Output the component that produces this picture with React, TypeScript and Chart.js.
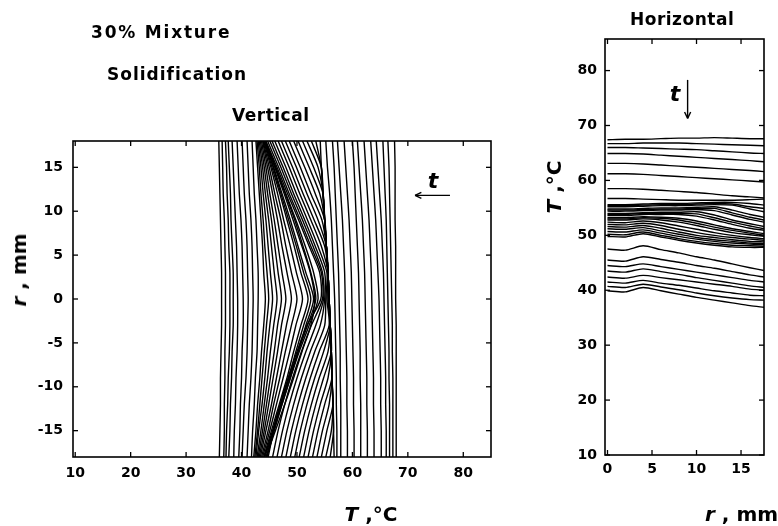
import React, { useEffect, useRef } from "react";
import { Chart, registerables } from "chart.js";

Chart.register(...registerables);

// ---------- Vertical panel: T (°C) profiles along r (mm) ----------
const R_VERT = [18, 15, 12, 9, 6, 3, 0, -3, -6, -9, -12, -15, -18];

// early (hot) profiles
const VERT_EARLY = [
  [67.6, 67.7, 67.7, 67.7, 67.8, 67.8, 67.8, 67.9, 67.9, 67.9, 67.9, 67.9, 67.9],
  [66.4, 66.6, 66.7, 66.8, 66.9, 67.0, 67.1, 67.2, 67.2, 67.3, 67.3, 67.3, 67.3],
  [65.5, 65.7, 65.9, 66.1, 66.2, 66.3, 66.4, 66.5, 66.6, 66.6, 66.7, 66.7, 66.7],
  [64.3, 64.6, 64.9, 65.2, 65.4, 65.6, 65.7, 65.8, 65.9, 66.0, 66.0, 66.1, 66.1],
  [63.3, 63.6, 63.9, 64.2, 64.4, 64.6, 64.8, 64.9, 65.0, 65.1, 65.1, 65.2, 65.2],
  [62.1, 62.4, 62.7, 63.0, 63.2, 63.4, 63.5, 63.6, 63.7, 63.8, 63.8, 63.9, 63.9],
  [60.9, 61.2, 61.5, 61.8, 62.0, 62.2, 62.3, 62.4, 62.5, 62.6, 62.6, 62.7, 62.7],
  [60.0, 60.3, 60.5, 60.7, 60.9, 61.1, 61.2, 61.3, 61.4, 61.4, 61.5, 61.5, 61.5],
  [58.5, 58.8, 59.1, 59.4, 59.6, 59.8, 59.9, 60.0, 60.1, 60.2, 60.2, 60.3, 60.3],
  [57.3, 57.6, 57.9, 58.2, 58.4, 58.6, 58.7, 58.8, 58.9, 59.0, 59.0, 59.1, 59.1],
  [56.4, 56.7, 56.9, 57.1, 57.3, 57.5, 57.6, 57.7, 57.8, 57.8, 57.9, 57.9, 57.9],
  [55.2, 55.5, 55.9, 56.2, 56.4, 56.6, 56.8, 56.9, 57.0, 57.1, 57.1, 57.2, 57.2],
];

// fan of profiles meeting the ~55 °C plateau
const VERT_FAN = [
  [54.2, 54.4, 54.7, 55.0, 55.3, 55.6, 55.8, 56.0, 56.2, 56.3, 56.5, 56.6, 56.7],
  [53.4, 54.4, 54.7, 55.0, 55.3, 55.6, 55.8, 56.0, 56.2, 56.3, 56.5, 56.6, 56.0],
  [52.6, 54.4, 54.7, 55.0, 55.3, 55.6, 55.8, 56.0, 56.2, 56.3, 56.5, 56.2, 55.2],
  [51.8, 53.8, 54.7, 55.0, 55.3, 55.6, 55.8, 56.0, 56.2, 56.3, 56.5, 55.4, 54.4],
  [51.0, 53.0, 54.7, 55.0, 55.3, 55.6, 55.8, 56.0, 56.2, 56.3, 55.8, 54.6, 53.6],
  [50.2, 52.2, 54.1, 55.0, 55.3, 55.6, 55.8, 56.0, 56.2, 56.3, 55.0, 53.8, 52.8],
  [49.4, 51.4, 53.3, 55.0, 55.3, 55.6, 55.8, 56.0, 56.2, 55.6, 54.2, 53.0, 52.0],
  [48.6, 50.6, 52.5, 54.5, 55.3, 55.6, 55.8, 56.0, 56.2, 54.8, 53.4, 52.2, 51.2],
  [47.9, 49.9, 51.8, 53.8, 55.3, 55.6, 55.7, 56.0, 55.6, 54.0, 52.6, 51.4, 50.4],
  [47.2, 49.2, 51.1, 53.1, 55.0, 55.6, 55.6, 56.0, 54.8, 53.2, 51.8, 50.6, 49.6],
  [46.6, 48.6, 50.5, 52.5, 54.4, 55.6, 55.4, 55.8, 54.0, 52.4, 51.0, 49.8, 48.8],
  [46.0, 48.0, 49.9, 51.9, 53.8, 55.4, 55.2, 55.0, 53.2, 51.6, 50.2, 49.0, 48.0],
  [45.5, 47.5, 49.4, 51.4, 53.3, 55.0, 55.0, 54.2, 52.4, 50.8, 49.4, 48.2, 47.2],
  [45.1, 47.1, 49.0, 51.0, 52.9, 54.6, 54.8, 53.4, 51.6, 50.0, 48.6, 47.4, 46.4],
  [44.7, 46.7, 48.6, 50.6, 52.5, 54.4, 54.6, 52.6, 50.8, 49.2, 47.8, 46.6, 45.6],
  [44.4, 46.4, 48.3, 50.3, 52.2, 54.1, 54.3, 51.8, 50.0, 48.4, 47.0, 45.8, 44.8],
];

// profiles with falling central peak
const VERT_LATE = [
  [44.3, 46.2, 48.0, 49.8, 51.5, 53.0, 53.8, 52.2, 50.4, 48.8, 47.3, 45.9, 44.6],
  [44.3, 46.1, 47.9, 49.6, 51.1, 52.5, 53.4, 51.9, 50.2, 48.6, 47.1, 45.7, 44.5],
  [44.3, 46.0, 47.7, 49.3, 50.9, 52.4, 53.2, 52.5, 50.9, 49.4, 47.8, 46.1, 44.4],
  [44.2, 45.8, 47.3, 48.8, 50.2, 51.6, 53.0, 51.6, 50.2, 48.8, 47.3, 45.8, 44.2],
  [44.2, 45.7, 47.1, 48.5, 49.9, 51.2, 52.5, 51.2, 49.8, 48.5, 47.0, 45.6, 44.1],
  [44.1, 45.5, 46.9, 48.2, 49.5, 50.7, 52.0, 50.7, 49.4, 48.2, 46.8, 45.4, 44.0],
  [44.0, 45.3, 46.5, 47.6, 48.8, 49.9, 51.0, 49.8, 48.7, 47.5, 46.3, 45.1, 43.8],
  [43.9, 45.0, 46.0, 47.1, 48.0, 49.0, 50.0, 49.0, 47.9, 46.9, 45.8, 44.8, 43.6],
  [43.8, 44.7, 45.6, 46.5, 47.3, 48.2, 49.0, 48.1, 47.2, 46.3, 45.4, 44.4, 43.4],
  [43.6, 44.4, 45.1, 45.9, 46.6, 47.3, 48.0, 47.2, 46.5, 45.7, 44.9, 44.1, 43.2],
  [43.4, 44.1, 44.7, 45.4, 46.0, 46.6, 47.2, 46.5, 45.9, 45.2, 44.5, 43.8, 43.0],
  [43.2, 43.8, 44.3, 44.9, 45.4, 45.9, 46.4, 45.8, 45.2, 44.7, 44.1, 43.5, 42.8],
  [43.0, 43.5, 43.9, 44.4, 44.8, 45.2, 45.6, 45.1, 44.6, 44.2, 43.7, 43.1, 42.6],
  [42.8, 43.2, 43.5, 43.9, 44.2, 44.6, 44.9, 44.5, 44.1, 43.7, 43.3, 42.9, 42.4],
  [42.6, 42.9, 43.2, 43.5, 43.8, 44.0, 44.3, 44.0, 43.6, 43.3, 42.9, 42.6, 42.2],
];

// cold, nearly uniform profiles
const VERT_COLD = [
  [41.9, 42.1, 42.3, 42.6, 42.8, 43.0, 43.0, 42.9, 42.8, 42.5, 42.3, 42.0, 41.8],
  [41.0, 41.2, 41.4, 41.7, 41.9, 42.0, 42.1, 42.0, 41.9, 41.7, 41.4, 41.2, 41.0],
  [40.1, 40.3, 40.5, 40.8, 41.0, 41.1, 41.2, 41.1, 41.0, 40.8, 40.5, 40.3, 40.1],
  [39.2, 39.4, 39.6, 39.9, 40.1, 40.2, 40.3, 40.3, 40.1, 40.0, 39.8, 39.7, 39.5],
  [38.3, 38.5, 38.7, 38.9, 39.1, 39.2, 39.3, 39.3, 39.2, 39.0, 38.9, 38.7, 38.6],
  [37.6, 37.8, 38.0, 38.1, 38.3, 38.5, 38.5, 38.5, 38.3, 38.2, 38.0, 37.9, 37.7],
  [37.1, 37.3, 37.4, 37.6, 37.7, 37.9, 37.9, 37.9, 37.8, 37.6, 37.5, 37.3, 37.2],
  [36.5, 36.6, 36.7, 36.9, 37.0, 37.1, 37.1, 37.1, 37.0, 37.0, 36.9, 36.9, 36.8],
  [35.9, 36.0, 36.1, 36.2, 36.3, 36.4, 36.4, 36.4, 36.3, 36.2, 36.2, 36.1, 36.0],
];

// ---------- Horizontal panel: T (°C) along r (mm) ----------
const R_HORIZ = [0, 2, 4, 6, 8, 10, 12, 14, 16, 17.6];

const HORIZ_EARLY = [
  [67.4, 67.5, 67.5, 67.6, 67.7, 67.7, 67.8, 67.7, 67.6, 67.6],
  [66.7, 66.7, 66.8, 66.8, 66.8, 66.7, 66.6, 66.5, 66.4, 66.3],
  [66.0, 66.0, 65.9, 65.8, 65.7, 65.6, 65.4, 65.2, 65.0, 64.9],
  [64.9, 64.9, 64.8, 64.6, 64.4, 64.2, 64.0, 63.8, 63.6, 63.4],
  [63.1, 63.1, 63.0, 62.8, 62.6, 62.4, 62.2, 62.0, 61.8, 61.6],
  [61.2, 61.2, 61.1, 60.9, 60.7, 60.5, 60.3, 60.1, 59.9, 59.7],
  [58.5, 58.5, 58.4, 58.2, 58.0, 57.8, 57.5, 57.2, 57.0, 56.8],
  [56.7, 56.7, 56.6, 56.5, 56.4, 56.4, 56.4, 56.4, 56.5, 56.6],
];

const HORIZ_FAN = [
  [55.6, 55.6, 55.7, 55.8, 55.8, 55.9, 56.0, 56.0, 55.8, 55.5],
  [55.4, 55.4, 55.5, 55.6, 55.6, 55.7, 55.8, 55.7, 55.2, 54.9],
  [55.2, 55.2, 55.3, 55.4, 55.4, 55.5, 55.6, 55.5, 54.8, 54.3],
  [54.8, 54.8, 54.9, 55.0, 55.0, 55.1, 55.2, 54.6, 53.8, 53.3],
  [54.6, 54.6, 54.7, 54.8, 54.8, 54.9, 54.9, 54.1, 53.3, 52.8],
  [54.4, 54.4, 54.5, 54.6, 54.6, 54.7, 54.5, 53.7, 52.9, 52.4],
  [54.0, 54.0, 54.1, 54.2, 54.2, 54.3, 53.7, 52.8, 52.1, 51.6],
  [53.8, 53.8, 54.0, 54.0, 54.0, 53.9, 53.2, 52.4, 51.7, 51.2],
  [53.6, 53.6, 53.8, 53.8, 53.8, 53.5, 52.8, 52.0, 51.3, 50.9],
  [53.2, 53.2, 53.4, 53.3, 53.1, 52.6, 51.9, 51.2, 50.7, 50.3],
  [53.0, 53.0, 53.2, 53.1, 52.8, 52.2, 51.5, 50.9, 50.4, 50.0],
  [52.8, 52.8, 53.0, 52.8, 52.4, 51.8, 51.1, 50.5, 50.1, 49.8],
  [52.4, 52.3, 52.6, 52.3, 51.7, 51.1, 50.5, 50.0, 49.6, 49.4],
  [52.0, 51.9, 52.2, 51.8, 51.1, 50.5, 50.0, 49.6, 49.3, 49.1],
  [51.6, 51.5, 51.8, 51.3, 50.6, 50.0, 49.6, 49.2, 48.9, 48.8],
  [51.2, 51.1, 51.4, 50.8, 50.2, 49.6, 49.2, 48.9, 48.6, 48.5],
  [50.7, 50.6, 51.0, 50.4, 49.8, 49.3, 48.9, 48.6, 48.4, 48.3],
  [50.2, 50.1, 50.6, 50.0, 49.4, 48.9, 48.5, 48.2, 48.1, 48.0],
  [49.8, 49.7, 50.3, 49.7, 49.1, 48.6, 48.2, 47.9, 47.8, 47.8],
];

const HORIZ_COLD = [
  [47.5, 47.3, 48.1, 47.4, 46.8, 46.1, 45.5, 44.8, 44.1, 43.6],
  [45.5, 45.3, 46.1, 45.6, 45.1, 44.5, 44.0, 43.4, 42.8, 42.4],
  [44.5, 44.3, 44.8, 44.3, 43.8, 43.3, 42.8, 42.3, 41.8, 41.5],
  [43.5, 43.3, 43.9, 43.4, 42.9, 42.3, 41.8, 41.3, 40.8, 40.5],
  [42.4, 42.2, 42.7, 42.3, 41.9, 41.5, 41.1, 40.7, 40.2, 40.0],
  [41.5, 41.3, 41.8, 41.3, 40.9, 40.4, 39.9, 39.5, 39.1, 39.0],
  [40.7, 40.5, 41.1, 40.6, 40.1, 39.5, 39.0, 38.6, 38.3, 38.2],
  [39.9, 39.7, 40.5, 39.9, 39.3, 38.7, 38.2, 37.7, 37.2, 36.9],
];

// ---------- tick labels ----------
const VERT_T_TICKS = [10, 20, 30, 40, 50, 60, 70, 80];
const VERT_R_TICKS = [-15, -10, -5, 0, 5, 10, 15];
const HORIZ_R_TICKS = [0, 5, 10, 15];
const HORIZ_T_TICKS = [10, 20, 30, 40, 50, 60, 70, 80];

const TICK_FONT = { family: '"DejaVu Sans", sans-serif', size: 14, weight: "bold" as const };

const framePlugin = {
  id: "frame",
  afterDatasetsDraw(chart: any, _args: any, opts: any) {
    const { ctx, chartArea: a, scales } = chart;
    ctx.save();
    ctx.strokeStyle = "#000";
    ctx.lineWidth = 1.6;
    ctx.strokeRect(a.left, a.top, a.right - a.left, a.bottom - a.top);
    ctx.lineWidth = 1.3;
    const L = 5;
    const seg = (x1: number, y1: number, x2: number, y2: number) => {
      ctx.beginPath();
      ctx.moveTo(x1, y1);
      ctx.lineTo(x2, y2);
      ctx.stroke();
    };
    scales.x.ticks.forEach((t: any) => {
      const px = scales.x.getPixelForValue(t.value);
      seg(px, a.bottom, px, a.bottom - L);
      seg(px, a.top, px, a.top + L);
    });
    scales.y.ticks.forEach((t: any) => {
      const py = scales.y.getPixelForValue(t.value);
      seg(a.left, py, a.left + L, py);
      seg(a.right, py, a.right - L, py);
    });
    if (opts && opts.arrow) {
      const [fx, fy] = opts.arrow.from;
      const [tx, ty] = opts.arrow.to;
      const x1 = scales.x.getPixelForValue(fx);
      const y1 = scales.y.getPixelForValue(fy);
      const x2 = scales.x.getPixelForValue(tx);
      const y2 = scales.y.getPixelForValue(ty);
      ctx.lineWidth = 1.4;
      seg(x1, y1, x2, y2);
      const ang = Math.atan2(y2 - y1, x2 - x1);
      const h = 7;
      seg(x2, y2, x2 - h * Math.cos(ang - 0.45), y2 - h * Math.sin(ang - 0.45));
      seg(x2, y2, x2 - h * Math.cos(ang + 0.45), y2 - h * Math.sin(ang + 0.45));
    }
    ctx.restore();
  },
};

const lineStyle = {
  borderColor: "#000",
  borderWidth: 1.4,
  pointRadius: 0,
  showLine: true,
  fill: false,
  tension: 0.25,
};

function vertSets(groups: number[][][]) {
  const out: any[] = [];
  groups.forEach((g) =>
    g.forEach((prof) => out.push({ ...lineStyle, data: R_VERT.map((r, i) => ({ x: prof[i], y: r })) }))
  );
  return out;
}
function horizSets(groups: number[][][]) {
  const out: any[] = [];
  groups.forEach((g) =>
    g.forEach((prof) => out.push({ ...lineStyle, data: R_HORIZ.map((r, i) => ({ x: r, y: prof[i] })) }))
  );
  return out;
}

function scaleOpts(min: number, max: number, ticks: number[], padding: number, fit: (s: any) => void) {
  return {
    type: "linear" as const,
    min,
    max,
    grid: { display: false, drawTicks: false, tickLength: 0 },
    border: { display: false },
    afterBuildTicks: (s: any) => {
      s.ticks = ticks.map((v) => ({ value: v }));
    },
    afterFit: fit,
    ticks: { padding, font: TICK_FONT, color: "#000", maxRotation: 0, autoSkip: false },
  };
}

export default function App() {
  const leftRef = useRef<HTMLCanvasElement>(null);
  const rightRef = useRef<HTMLCanvasElement>(null);

  useEffect(() => {
    const left = new Chart(leftRef.current!, {
      type: "scatter",
      data: { datasets: vertSets([VERT_EARLY, VERT_FAN, VERT_LATE, VERT_COLD]) },
      options: {
        responsive: false,
        animation: false,
        events: [],
        layout: { padding: { left: 0, top: 141, right: 9, bottom: 0 } },
        plugins: {
          legend: { display: false },
          tooltip: { enabled: false },
          frame: { arrow: { from: [77.6, 11.8], to: [71.3, 11.8] } },
        } as any,
        scales: {
          x: scaleOpts(9.6, 85, VERT_T_TICKS, 8, (s: any) => { s.height = 69; }),
          y: scaleOpts(-18, 18, VERT_R_TICKS, 10, (s: any) => { s.width = 73; }),
        },
      },
      plugins: [framePlugin],
    });
    const right = new Chart(rightRef.current!, {
      type: "scatter",
      data: { datasets: horizSets([HORIZ_EARLY, HORIZ_FAN, HORIZ_COLD]) },
      options: {
        responsive: false,
        animation: false,
        events: [],
        layout: { padding: { left: 0, top: 39, right: 14, bottom: 0 } },
        plugins: {
          legend: { display: false },
          tooltip: { enabled: false },
          frame: { arrow: { from: [9.0, 78.3], to: [9.0, 71.3] } },
        } as any,
        scales: {
          x: scaleOpts(-0.28, 17.58, HORIZ_R_TICKS, 6, (s: any) => { s.height = 71; }),
          y: scaleOpts(10, 85.75, HORIZ_T_TICKS, 8, (s: any) => { s.width = 85; }),
        },
      },
      plugins: [framePlugin],
    });
    return () => {
      left.destroy();
      right.destroy();
    };
  }, []);

  const font = '"DejaVu Sans", sans-serif';
  const txt = (extra: React.CSSProperties): React.CSSProperties => ({
    position: "absolute",
    fontFamily: font,
    fontWeight: "bold",
    color: "#000",
    whiteSpace: "nowrap",
    lineHeight: 1,
    ...extra,
  });

  return (
    <div style={{ position: "fixed", left: 0, top: 0, width: 778, height: 526, background: "#fff", overflow: "hidden" }}>
      <canvas ref={leftRef} width={500} height={526} style={{ position: "absolute", left: 0, top: 0 }} />
      <canvas ref={rightRef} width={258} height={526} style={{ position: "absolute", left: 520, top: 0 }} />

      <div style={txt({ left: 91, top: 32, fontSize: 17, letterSpacing: 1.8, transform: "translateY(-50%)" })}>30% Mixture</div>
      <div style={txt({ left: 107, top: 74, fontSize: 17, letterSpacing: 1, transform: "translateY(-50%)" })}>Solidification</div>
      <div style={txt({ left: 232, top: 115, fontSize: 17, letterSpacing: 0.5, transform: "translateY(-50%)" })}>Vertical</div>
      <div style={txt({ left: 630, top: 19, fontSize: 17, letterSpacing: 0.5, transform: "translateY(-50%)" })}>Horizontal</div>

      <div style={txt({ left: 19, top: 270, fontSize: 20, transform: "translate(-50%, -50%) rotate(-90deg)" })}>
        <i>r</i> , mm
      </div>
      <div style={txt({ left: 371, top: 514, fontSize: 20, transform: "translate(-50%, -50%)" })}>
        <i>T</i> ,°C
      </div>
      <div style={txt({ left: 554, top: 187, fontSize: 20, transform: "translate(-50%, -50%) rotate(-90deg)" })}>
        <i>T</i> ,°C
      </div>
      <div style={txt({ left: 705, top: 514, fontSize: 20, transform: "translateY(-50%)" })}>
        <i>r</i> , mm
      </div>

      <div style={txt({ left: 433, top: 181, fontSize: 22, fontStyle: "italic", transform: "translate(-50%, -50%)" })}>t</div>
      <div style={txt({ left: 675, top: 94, fontSize: 22, fontStyle: "italic", transform: "translate(-50%, -50%)" })}>t</div>
    </div>
  );
}
